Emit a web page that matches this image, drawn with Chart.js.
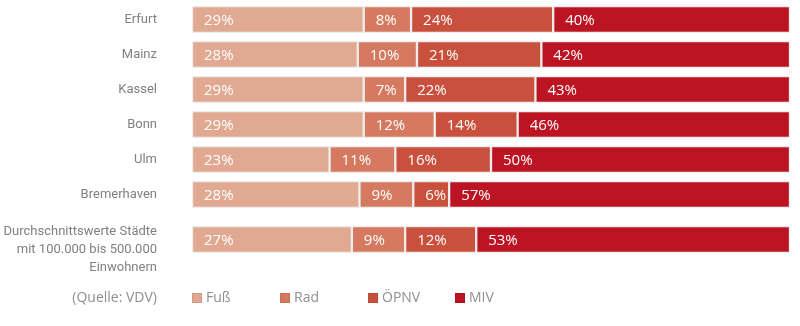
<!DOCTYPE html>
<html>
<head>
<meta charset="utf-8">
<script src="https://cdn.jsdelivr.net/npm/chart.js@4"></script>
<style>
  body { margin: 0; background: #fff; }
  #wrap { position: relative; width: 800px; height: 326px; }
  .legend { position: absolute; top: 288px; font-family: "Open Sans", sans-serif; font-size: 14px; color: #8f8f8f; line-height: 18px; white-space: nowrap; }
  .legend i { display: inline-block; width: 10px; height: 10px; margin-right: 4px; vertical-align: -1px; border: 1px solid rgba(0,0,0,0.08); box-sizing: border-box; }
  #source { right: 643px; }
</style>
</head>
<body>
<div id="wrap">
  <canvas id="myChart" width="800" height="326"></canvas>
  <div class="legend" id="source">(Quelle: VDV)</div>
  <div id="legendItems"></div>
</div>
<script>
// data
const cities = ['Erfurt', 'Mainz', 'Kassel', 'Bonn', 'Ulm', 'Bremerhaven',
    ['Durchschnittswerte Städte', 'mit 100.000 bis 500.000', 'Einwohnern']];
const fuss = [29, 28, 29, 29, 23, 28, 27];
const rad  = [8, 10, 7, 12, 11, 9, 9];
const oepnv = [24, 21, 22, 14, 16, 6, 12];
const miv  = [40, 42, 43, 46, 50, 57, 53];
const seriesNames = ['Fuß', 'Rad', 'ÖPNV', 'MIV'];
const seriesColors = ['#e1a992', '#d57a60', '#c9503c', '#bc1422'];

const series = [fuss, rad, oepnv, miv];
const rowSums = cities.map((c, i) => series.reduce((s, arr) => s + arr[i], 0));

// category scale with an extra gap before the last row
const lastGap = 10;
class GapCategoryScale extends Chart.CategoryScale {
    getPixelForValue(value) {
        if (typeof value !== 'number') value = this.parse(value);
        const n = this.getLabels().length;
        const step = (this.height - lastGap) / n;
        let y = this.top + step * (value + 0.5);
        if (value >= n - 1) y += lastGap;
        return y;
    }
    // multi-line label: first line sits level with the bar
    getPixelForTick(index) {
        const y = super.getPixelForTick(index);
        const label = this.getLabels()[index];
        return Array.isArray(label) ? y + (label.length - 1) * 18 / 2 - 8 : y;
    }
}
GapCategoryScale.id = 'gapCategory';
GapCategoryScale.defaults = Chart.CategoryScale.defaults;
Chart.register(GapCategoryScale);

// white percent labels at the left of every segment
const segmentLabels = {
    id: 'segmentLabels',
    afterDatasetsDraw(chart) {
        const ctx = chart.ctx;
        ctx.save();
        ctx.fillStyle = '#fff';
        ctx.font = '15px "Open Sans", sans-serif';
        ctx.textBaseline = 'middle';
        chart.data.datasets.forEach((ds, di) => {
            chart.getDatasetMeta(di).data.forEach((bar, i) => {
                ctx.fillText(ds.raw[i] + '%', bar.base + 12, bar.y + 1);
            });
        });
        ctx.restore();
    }
};

const ctx = document.getElementById('myChart');
const myChart = new Chart(ctx, {
    type: 'bar',
    data: {
        labels: cities,
        datasets: series.map((arr, k) => ({
            label: seriesNames[k],
            raw: arr,
            data: arr.map((v, i) => v / rowSums[i] * 100),
            backgroundColor: seriesColors[k],
            borderColor: '#ededed',
            borderWidth: 1.5,
            borderSkipped: false,
            barThickness: 27
        }))
    },
    options: {
        indexAxis: 'y',
        responsive: false,
        animation: false,
        layout: { padding: { top: 2, bottom: 69, right: 10, left: 0 } },
        plugins: { legend: { display: false }, tooltip: { enabled: false } },
        scales: {
            x: { stacked: true, display: false, min: 0, max: 100 },
            y: {
                type: 'gapCategory',
                stacked: true,
                grid: { display: false, drawTicks: false },
                border: { display: false },
                ticks: {
                    autoSkip: false,
                    padding: 35,
                    color: '#808080',
                    font: { family: 'Roboto, sans-serif', size: 13, lineHeight: 1.38 }
                },
                afterFit(scale) {
                    scale.width = 192;
                    scale.paddingTop = 0;
                    scale.paddingBottom = 0;
                }
            }
        }
    },
    plugins: [segmentLabels]
});

// legend below the chart
const legendLeft = [192, 280, 368, 455];
const legendBox = document.getElementById('legendItems');
seriesNames.forEach((name, k) => {
    const d = document.createElement('div');
    d.className = 'legend';
    d.style.left = legendLeft[k] + 'px';
    d.innerHTML = '<i style="background:' + seriesColors[k] + '"></i>' + name;
    legendBox.appendChild(d);
});
</script>
</body>
</html>
